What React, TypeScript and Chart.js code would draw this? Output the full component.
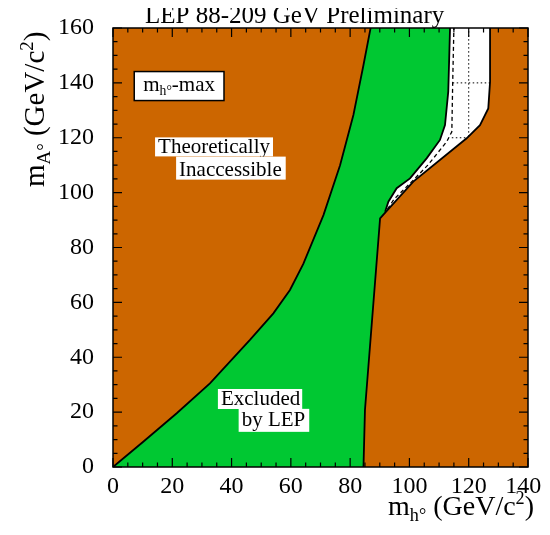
import React, { useEffect, useRef } from "react";
import { Chart, registerables } from "chart.js";
Chart.register(...registerables);

// ---- axis ticks ----
const xTickValues = [0, 20, 40, 60, 80, 100, 120, 140];
const yTickValues = [0, 20, 40, 60, 80, 100, 120, 140, 160];
const minorStep = 5;

// ---- boundary of the theoretically inaccessible region (upper-left) ----
const theoryX = [0, 10.2, 21.5, 32.7, 46.2, 54.1, 59.7, 64.2, 71, 76.6, 81.1, 84.5, 86.9];
const theoryY = [0, 9.2, 19.6, 30.5, 46.3, 56, 64.5, 74, 91.8, 110, 128.3, 146.5, 160];

// ---- boundary of the theoretically inaccessible region (right) ----
const rightX = [84.5, 85, 90.1, 91.9, 101.3, 119.3, 123.8, 126.6, 127.2, 127.2];
const rightY = [0, 20.8, 90.6, 92.8, 104, 119.8, 124.6, 130.7, 140.4, 160];

// ---- observed LEP exclusion boundary ----
const obsX = [91.8, 92.9, 95.7, 100.2, 105.8, 110.3, 112, 113.1, 113.7];
const obsY = [93, 96.7, 101.6, 105.2, 112.5, 119.2, 124.6, 136.8, 160];

// ---- expected exclusion boundary (dashed) ----
const expX = [92.6, 94.8, 100.8, 106.2, 112.6, 114.3, 114.6, 115];
const expY = [94, 97.6, 104, 110, 118.6, 122.2, 140.4, 160];

// ---- dotted reference lines in the allowed region ----
const dotVX = [120, 120];
const dotVY = [120.4, 160];
const dotH1X = [114.6, 127.2];
const dotH1Y = [140, 140];
const dotH2X = [114.3, 119.6];
const dotH2Y = [120, 120];

const ORANGE = "#cc6600";
const GREEN = "#00c832";
const serif = "'Liberation Serif', 'Times New Roman', serif";

const pts = (xs: number[], ys: number[]) => xs.map((x, i) => ({ x, y: ys[i] }));

type Part = { t: string; k?: "sub" | "sup" };

function richWidth(ctx: CanvasRenderingContext2D, parts: Part[], size: number) {
  let w = 0;
  for (const p of parts) {
    const s = p.k ? size * 0.65 : size;
    ctx.font = `${s}px ${serif}`;
    w += ctx.measureText(p.t).width;
  }
  return w;
}

function drawRich(ctx: CanvasRenderingContext2D, parts: Part[], x: number, y: number, size: number) {
  let cx = x;
  ctx.textAlign = "left";
  ctx.textBaseline = "alphabetic";
  for (const p of parts) {
    const s = p.k ? size * 0.65 : size;
    ctx.font = `${s}px ${serif}`;
    const dy = p.k === "sub" ? size * 0.22 : p.k === "sup" ? -size * 0.38 : 0;
    ctx.fillText(p.t, cx, y + dy);
    cx += ctx.measureText(p.t).width;
  }
}

const decorPlugin = {
  id: "decor",
  beforeDatasetsDraw(chart: any) {
    const { ctx, chartArea: a } = chart;
    ctx.save();
    ctx.fillStyle = ORANGE;
    ctx.fillRect(a.left, a.top, a.right - a.left, a.bottom - a.top);
    ctx.restore();
  },
  afterDatasetsDraw(chart: any) {
    const { ctx, chartArea: a, scales } = chart;
    const xs = scales.x;
    const ys = scales.y;
    ctx.save();
    // frame
    ctx.strokeStyle = "#000";
    ctx.lineWidth = 1.5;
    ctx.strokeRect(a.left, a.top, a.right - a.left, a.bottom - a.top);
    // inward ticks
    ctx.lineWidth = 1.2;
    ctx.beginPath();
    for (let v = xs.min; v <= xs.max + 1e-6; v += minorStep) {
      const major = xTickValues.includes(v);
      const L = major ? 9 : 4.5;
      const px = xs.getPixelForValue(v);
      ctx.moveTo(px, a.bottom);
      ctx.lineTo(px, a.bottom - L);
      ctx.moveTo(px, a.top);
      ctx.lineTo(px, a.top + L);
    }
    for (let v = ys.min; v <= ys.max + 1e-6; v += minorStep) {
      const major = yTickValues.includes(v);
      const L = major ? 9 : 4.5;
      const py = ys.getPixelForValue(v);
      ctx.moveTo(a.left, py);
      ctx.lineTo(a.left + L, py);
      ctx.moveTo(a.right, py);
      ctx.lineTo(a.right - L, py);
    }
    ctx.stroke();

    // labelled boxes
    const X = (v: number) => xs.getPixelForValue(v);
    const Y = (v: number) => ys.getPixelForValue(v);
    const box = (parts: Part[], x: number, y: number, size: number, border: boolean, padL: number, padR: number, up: number, down: number) => {
      const px = X(x);
      const py = Y(y);
      const w = richWidth(ctx, parts, size);
      ctx.fillStyle = "#fff";
      ctx.fillRect(px - padL, py - up, w + padL + padR, up + down);
      if (border) {
        ctx.strokeStyle = "#000";
        ctx.lineWidth = 1.5;
        ctx.strokeRect(px - padL, py - up, w + padL + padR, up + down);
      }
      ctx.fillStyle = "#000";
      drawRich(ctx, parts, px, py, size);
    };
    box([{ t: "m" }, { t: "h°", k: "sub" }, { t: "-max" }], 10.2, 137.2, 21, true, 9, 9, 19, 10);
    box([{ t: "Theoretically" }], 15.2, 114.3, 21, false, 3, 3, 16, 3);
    box([{ t: "Inaccessible" }], 22.3, 106.2, 21, false, 3, 4, 19, 4);
    box([{ t: "Excluded" }], 36.4, 22.6, 21, false, 3, 2, 16, 4);
    box([{ t: "by LEP" }], 43.4, 15.0, 21, false, 3, 4, 17, 6);

    // titles
    ctx.fillStyle = "#000";
    drawRich(ctx, [{ t: "LEP 88-209 GeV Preliminary" }], 137, 15, 25);
    const xt: Part[] = [{ t: "m" }, { t: "h°", k: "sub" }, { t: " (GeV/c" }, { t: "2", k: "sup" }, { t: ")" }];
    const xw = richWidth(ctx, xt, 28);
    drawRich(ctx, xt, a.right + 6 - xw, 507, 28);
    const yt: Part[] = [{ t: "m" }, { t: "A°", k: "sub" }, { t: " (GeV/c" }, { t: "2", k: "sup" }, { t: ")" }];
    ctx.save();
    ctx.translate(36, 179);
    ctx.rotate(-Math.PI / 2);
    drawRich(ctx, yt, 0, 0, 29);
    ctx.restore();
    ctx.restore();
  },
};

export default function App() {
  const ref = useRef<HTMLCanvasElement>(null);
  useEffect(() => {
    if (!ref.current) return;
    const lineDs = (data: any[], dash: number[] = [], width = 1.8) => ({
      data,
      showLine: true,
      borderColor: "#000",
      borderWidth: width,
      borderDash: dash,
      pointRadius: 0,
      tension: 0,
      fill: false,
    });
    const greenShape = [
      ...pts(theoryX, theoryY),
      ...pts(obsX, obsY).reverse(),
      ...pts(rightX.slice(0, 3), rightY.slice(0, 3)).reverse(),
    ];
    const whiteShape = [
      ...pts(obsX, obsY),
      ...pts(rightX.slice(3), rightY.slice(3)).reverse(),
    ];
    const lastX = xTickValues[xTickValues.length - 1];
    const chart = new Chart(ref.current, {
      type: "scatter",
      data: {
        datasets: [
          lineDs(pts(dotVX, dotVY), [1.5, 2.5], 1),
          lineDs(pts(dotH1X, dotH1Y), [1.5, 2.5], 1),
          lineDs(pts(dotH2X, dotH2Y), [1.5, 2.5], 1),
          lineDs(pts(expX, expY), [4, 3], 1.3),
          lineDs(pts(obsX, obsY)),
          lineDs(pts(rightX, rightY)),
          lineDs(pts(theoryX, theoryY)),
          {
            data: greenShape,
            showLine: true,
            borderWidth: 0,
            borderColor: GREEN,
            backgroundColor: GREEN,
            pointRadius: 0,
            tension: 0,
            fill: "shape",
          },
          {
            data: whiteShape,
            showLine: true,
            borderWidth: 0,
            borderColor: "#fff",
            backgroundColor: "#fff",
            pointRadius: 0,
            tension: 0,
            fill: "shape",
          },
        ] as any,
      },
      options: {
        animation: false,
        responsive: false,
        layout: { padding: { top: 20, right: 22, left: 0, bottom: 0 } },
        plugins: { legend: { display: false }, tooltip: { enabled: false }, title: { display: false } },
        scales: {
          x: {
            type: "linear",
            min: 0,
            max: 140,
            grid: { display: false, drawTicks: false },
            border: { display: false },
            afterBuildTicks: (s: any) => {
              s.ticks = xTickValues.map((v) => ({ value: v }));
            },
            afterFit: (s: any) => {
              s.height = 60;
              s.paddingLeft = 0;
              s.paddingRight = 0;
            },
            ticks: {
              padding: 5,
              color: "#000",
              maxRotation: 0,
              font: { family: serif, size: 24 },
              callback: (v: any) => (v === lastX ? `${v}\u2009\u2009` : String(v)),
            },
          },
          y: {
            type: "linear",
            min: 0,
            max: 160,
            grid: { display: false, drawTicks: false },
            border: { display: false },
            afterBuildTicks: (s: any) => {
              s.ticks = yTickValues.map((v) => ({ value: v }));
            },
            afterFit: (s: any) => {
              s.width = 105;
              s.paddingTop = 0;
              s.paddingBottom = 0;
            },
            ticks: {
              padding: 19,
              color: "#000",
              font: { family: serif, size: 24 },
              callback: (v: any) => String(v),
            },
          },
        },
      },
      plugins: [decorPlugin],
    } as any);
    return () => chart.destroy();
  }, []);
  return (
    <div style={{ width: 534, height: 519 }}>
      <canvas ref={ref} width={542} height={519} style={{ display: "block" }} />
    </div>
  );
}
